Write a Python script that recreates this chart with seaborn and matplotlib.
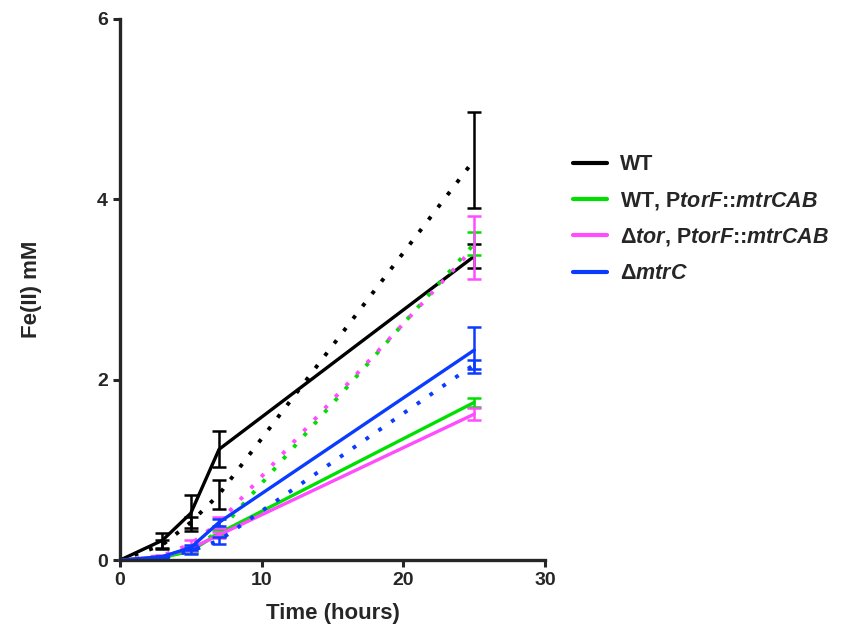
import numpy as np
import pandas as pd
import matplotlib
matplotlib.use("Agg")
import matplotlib.pyplot as plt
import seaborn as sns
from matplotlib.lines import Line2D

# --- data ---
time = [0, 3, 5, 7, 25]

strains = ["WT", "WT, PtorF::mtrCAB", "Δtor, PtorF::mtrCAB", "ΔmtrC"]

# solid lines
wt_solid = [0.0, 0.22, 0.52, 1.23, 3.37]
wt_solid_sd = [0.0, 0.08, 0.20, 0.20, 0.13]
green_solid = [0.0, 0.03, 0.10, 0.30, 1.75]
green_solid_sd = [0.0, 0.01, 0.02, 0.03, 0.05]
magenta_solid = [0.0, 0.04, 0.13, 0.28, 1.62]
magenta_solid_sd = [0.0, 0.01, 0.03, 0.03, 0.07]
blue_solid = [0.0, 0.04, 0.14, 0.42, 2.33]
blue_solid_sd = [0.0, 0.01, 0.03, 0.04, 0.25]

# dotted lines
wt_dot = [0.0, 0.17, 0.42, 0.73, 4.44]
wt_dot_sd = [0.0, 0.05, 0.06, 0.16, 0.53]
green_dot = [0.0, 0.04, 0.12, 0.32, 3.51]
green_dot_sd = [0.0, 0.01, 0.03, 0.04, 0.13]
magenta_dot = [0.0, 0.05, 0.18, 0.42, 3.47]
magenta_dot_sd = [0.0, 0.01, 0.04, 0.06, 0.35]
blue_dot = [0.0, 0.03, 0.10, 0.22, 2.17]
blue_dot_sd = [0.0, 0.01, 0.03, 0.04, 0.05]

colors = {"WT": "#000000",
          "WT, PtorF::mtrCAB": "#00e000",
          "Δtor, PtorF::mtrCAB": "#ff4cff",
          "ΔmtrC": "#0a3cff"}

legend_labels = ["WT",
                 r"WT, P$\mathit{torF}$::$\mathit{mtrCAB}$",
                 r"Δ$\mathit{tor}$, P$\mathit{torF}$::$\mathit{mtrCAB}$",
                 r"Δ$\mathit{mtrC}$"]

solid_vals = [wt_solid, green_solid, magenta_solid, blue_solid]
solid_sds = [wt_solid_sd, green_solid_sd, magenta_solid_sd, blue_solid_sd]
dot_vals = [wt_dot, green_dot, magenta_dot, blue_dot]
dot_sds = [wt_dot_sd, green_dot_sd, magenta_dot_sd, blue_dot_sd]

rows = []
for s, sv, ss, dv, ds in zip(strains, solid_vals, solid_sds, dot_vals, dot_sds):
    for t, v, e in zip(time, sv, ss):
        rows.append({"strain": s, "cond": "solid", "time": t, "fe": v, "sd": e})
    for t, v, e in zip(time, dv, ds):
        rows.append({"strain": s, "cond": "dotted", "time": t, "fe": v, "sd": e})
df = pd.DataFrame(rows)

sns.set_style("ticks")
plt.rcParams['font.family'] = ['Liberation Sans', 'DejaVu Sans']
plt.rcParams['font.weight'] = 'bold'
plt.rcParams['mathtext.fontset'] = 'custom'
plt.rcParams['mathtext.rm'] = 'Liberation Sans:bold'
plt.rcParams['mathtext.it'] = 'Liberation Sans:italic:bold'
plt.rcParams['mathtext.bf'] = 'Liberation Sans:bold'

fig = plt.figure(figsize=(8.44, 6.33), dpi=100)
ax = fig.add_axes([0.142, 0.115, 0.504, 0.855])

for s in strains:
    for cond, ls, lw in [("solid", "-", 2.4), ("dotted", (0, (1, 3)), 2.8)]:
        sub = df[(df.strain == s) & (df.cond == cond)]
        sns.lineplot(data=sub, x="time", y="fe", ax=ax, color=colors[s],
                     linewidth=lw, linestyle=ls, legend=False, errorbar=None)
        ax.errorbar(sub["time"][1:], sub["fe"][1:], yerr=sub["sd"][1:], fmt="none",
                    ecolor=colors[s], elinewidth=1.8, capsize=5, capthick=1.8)

ax.set_xlim(0, 30)
ax.set_ylim(0, 6)
ax.set_xticks([0, 10, 20, 30])
ax.set_yticks([0, 2, 4, 6])
ax.set_xlabel("Time (hours)", fontsize=16, fontweight="bold", labelpad=10)
ax.set_ylabel("Fe(II) mM", fontsize=16, fontweight="bold", labelpad=40)
ax.tick_params(labelsize=14, width=2.2, length=5)
for lab in ax.get_xticklabels() + ax.get_yticklabels():
    lab.set_fontweight("bold")
sns.despine(ax=ax)
for sp in ["left", "bottom"]:
    ax.spines[sp].set_linewidth(2.4)
ax.margins(0)
for line in ax.lines:
    line.set_clip_on(False)

handles = [Line2D([], [], color=colors[s], linewidth=3) for s in strains]
fig.legend(handles, legend_labels, loc="upper left", bbox_to_anchor=(0.656, 0.787),
           frameon=False, fontsize=15.5, handlelength=1.6, handletextpad=0.6,
           labelspacing=0.68)

plt.savefig("out.png", dpi=100)
